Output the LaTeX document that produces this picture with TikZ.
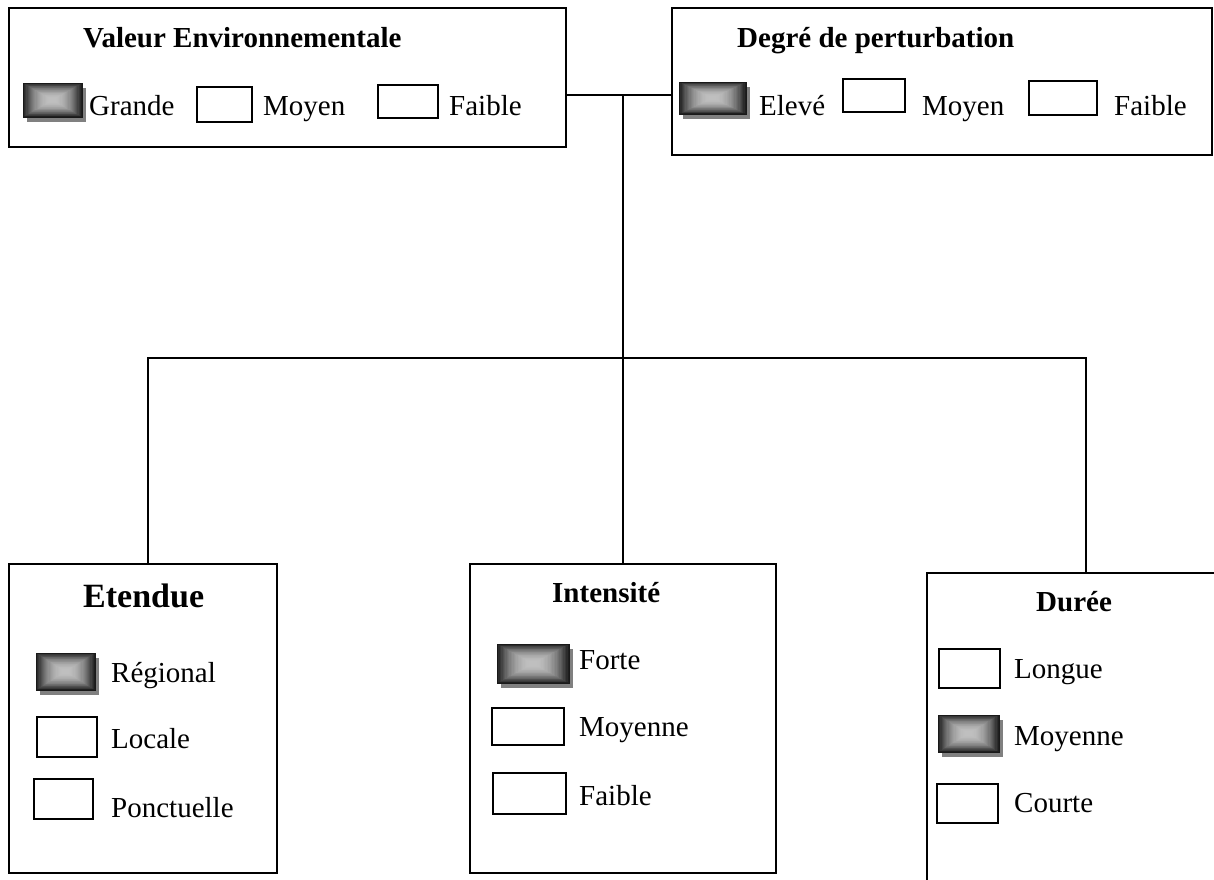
\documentclass[tikz,border=0pt]{standalone}
\usepackage{fontspec}
\setmainfont{Liberation Serif}
\usetikzlibrary{fit,calc,shadows}
\tikzset{
 frame/.style={draw=black, line width=1.8pt, inner sep=0pt},
 cbox/.style={draw=black, line width=1.5pt, inner sep=0pt, fill=white},
 sbox/.style={draw=black!90, line width=1pt, inner sep=0pt,
   drop shadow={shadow xshift=3.5pt, shadow yshift=-4.5pt, fill=black!50, opacity=1},
   fill=black!88,
   path picture={\foreach \i [evaluate=\i as \gv using 25+63*(1-\i/24)^2] in {0,...,24}{
     \fill[black!\gv] ($(path picture bounding box.south west)!\i/52!(path picture bounding box.north east)$) rectangle ($(path picture bounding box.north east)!\i/52!(path picture bounding box.south west)$);}}},
 lbl/.style={anchor=base west, inner sep=0pt, font=\fontsize{29pt}{34pt}\selectfont},
 ttl/.style={anchor=base west, inner sep=0pt, font=\fontsize{29pt}{34pt}\selectfont\bfseries},
 conn/.style={draw=black, line width=1.8pt},
}
\newcommand\cbx[6]{\node[#1, fit={(#3,#4) (#5,#6)}] (#2) {};}
\begin{document}
\begin{tikzpicture}[x=1pt,y=-1pt]
\useasboundingbox (0,0) rectangle (1214,879);
\begin{scope}
\clip (0,0) rectangle (1214,879);
\fill[white] (0,0) rectangle (1214,879);
% main frames
\node[frame, fit={(9,8) (566,147)}] (ve) {};
\node[frame, fit={(672,8) (1212,155)}] (dp) {};
\node[frame, fit={(9,564) (277,873)}] (et) {};
\node[frame, fit={(470,564) (776,873)}] (in) {};
\node[frame, fit={(927,573) (1240,905)}] (du) {};
% connectors
\coordinate (j1) at (623,95);
\coordinate (hL) at (148,358);
\coordinate (hM) at (623,358);
\coordinate (hR) at (1086,358);
\draw[conn] (ve.east |- j1) -- (dp.west |- j1);
\draw[conn] (j1) -- (j1 |- in.north);
\draw[conn] (hL |- et.north) -- (hL) -- (hR) -- (hR |- du.north);
% Valeur Environnementale
\node[ttl] (tve) at (83,47) {Valeur Environnementale};
\cbx{sbox}{ve1}{23}{83}{82}{117}
\node[lbl] (lve1) at (89,115) {Grande};
\cbx{cbox}{ve2}{197}{87}{252}{122}
\node[lbl] (lve2) at (263,115) {Moyen};
\cbx{cbox}{ve3}{378}{85}{438}{118}
\node[lbl] (lve3) at (449,115) {Faible};
% Degre de perturbation
\node[ttl] (tdp) at (737,47) {Degré de perturbation};
\cbx{sbox}{dp1}{679}{82}{746}{114}
\node[lbl] (ldp1) at (759,115) {Elevé};
\cbx{cbox}{dp2}{843}{79}{905}{112}
\node[lbl] (ldp2) at (922,115) {Moyen};
\cbx{cbox}{dp3}{1029}{81}{1097}{115}
\node[lbl] (ldp3) at (1114,115) {Faible};
% Etendue
\node[anchor=base west, inner sep=0pt, font=\fontsize{34pt}{40pt}\selectfont\bfseries] (tet) at (83,607) {Etendue};
\cbx{sbox}{et1}{36}{653}{95}{690}
\node[lbl] (let1) at (111,682) {Régional};
\cbx{cbox}{et2}{37}{717}{97}{757}
\node[lbl] (let2) at (111,748) {Locale};
\cbx{cbox}{et3}{34}{779}{93}{819}
\node[lbl] (let3) at (111,817) {Ponctuelle};
% Intensite
\node[ttl] (tin) at (552,602) {Intensité};
\cbx{sbox}{in1}{497}{644}{569}{683}
\node[lbl] (lin1) at (579,669) {Forte};
\cbx{cbox}{in2}{492}{708}{564}{745}
\node[lbl] (lin2) at (579,736) {Moyenne};
\cbx{cbox}{in3}{493}{773}{566}{814}
\node[lbl] (lin3) at (579,805) {Faible};
% Duree
\node[ttl] (tdu) at (1036,611) {Durée};
\cbx{cbox}{du1}{939}{649}{1000}{688}
\node[lbl] (ldu1) at (1014,678) {Longue};
\cbx{sbox}{du2}{938}{715}{999}{752}
\node[lbl] (ldu2) at (1014,745) {Moyenne};
\cbx{cbox}{du3}{937}{784}{998}{823}
\node[lbl] (ldu3) at (1014,812) {Courte};
\end{scope}
\end{tikzpicture}
\end{document}
